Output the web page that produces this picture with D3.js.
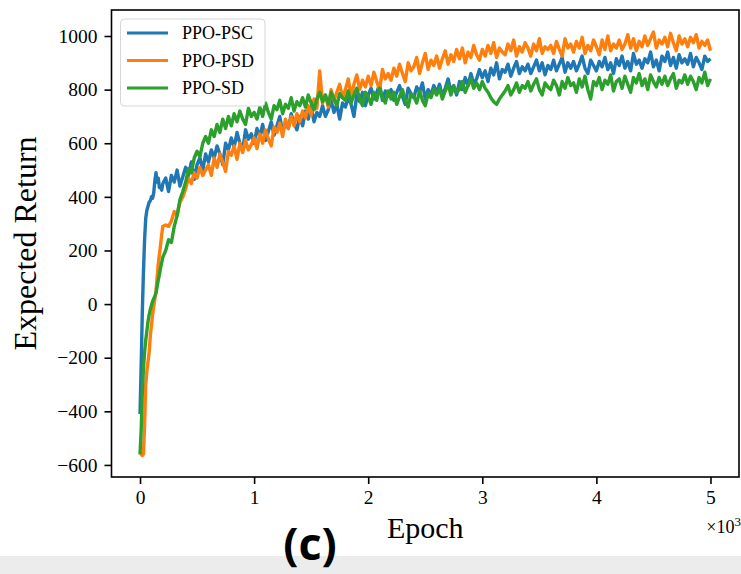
<!DOCTYPE html>
<html><head><meta charset="utf-8">
<script src="https://cdn.jsdelivr.net/npm/d3@7"></script>
<style>html,body{margin:0;padding:0;background:#fff;} svg{display:block;}</style>
</head><body>
<svg id="chart" width="741" height="574"></svg>
<script>
const seriesNames = ["PPO-PSC", "PPO-PSD", "PPO-SD"];
const seriesColors = ["#1f77b4", "#ff7f0e", "#2ca02c"];
const xTicks = [0, 1000, 2000, 3000, 4000, 5000];
const xTickLabels = ["0", "1", "2", "3", "4", "5"];
const yTicks = [-600, -400, -200, 0, 200, 400, 600, 800, 1000];

const epochs = [0,10,20,30,40,50,60,70,80,90,100,110,120,130,140,150,160,170,180,190,
200,225,250,275,300,325,350,375,
400,425,450,475,500,525,550,575,
600,625,650,675,700,725,750,775,
800,825,850,875,900,925,950,975,
1000,1025,1050,1075,1100,1125,1150,1175,
1200,1225,1250,1275,1300,1325,1350,1375,
1400,1425,1450,1475,1500,1525,1550,1575,
1600,1625,1650,1675,1700,1725,1750,1775,
1800,1825,1850,1875,1900,1925,1950,1975,
2000,2025,2050,2075,2100,2125,2150,2175,
2200,2225,2250,2275,2300,2325,2350,2375,
2400,2425,2450,2475,2500,2525,2550,2575,
2600,2625,2650,2675,2700,2725,2750,2775,
2800,2825,2850,2875,2900,2925,2950,2975,
3000,3025,3050,3075,3100,3125,3150,3175,
3200,3225,3250,3275,3300,3325,3350,3375,
3400,3425,3450,3475,3500,3525,3550,3575,
3600,3625,3650,3675,3700,3725,3750,3775,
3800,3825,3850,3875,3900,3925,3950,3975,
4000,4025,4050,4075,4100,4125,4150,4175,
4200,4225,4250,4275,4300,4325,4350,4375,
4400,4425,4450,4475,4500,4525,4550,4575,
4600,4625,4650,4675,4700,4725,4750,4775,
4800,4825,4850,4875,4900,4925,4950,4975,
5000];

const ppoPSC = [-410,-230,-30,120,240,320,350,365,380,385,400,395,415,460,490,455,470,435,440,425,
450,470,420,480,455,500,440,475,
510,480,530,465,520,545,500,560,
530,575,545,590,560,520,600,575,
620,585,640,600,575,650,615,635,
600,655,625,670,610,645,680,630,
665,700,640,680,655,710,675,650,
700,665,720,690,735,680,715,700,
740,700,725,760,715,745,690,750,
735,770,745,700,780,755,790,740,
780,805,765,790,820,760,795,775,
800,760,790,815,775,745,805,785,
770,810,790,825,765,800,780,815,
790,820,775,805,840,795,815,780,
830,800,845,815,860,820,840,875,
845,870,830,880,855,900,840,875,
865,895,850,880,905,860,885,870,
895,860,885,910,870,900,855,890,
875,910,870,895,920,865,900,880,
905,870,895,925,880,860,910,890,
870,905,885,920,875,900,860,915,
890,925,880,905,870,935,895,910,
880,915,900,940,885,910,870,925,
905,940,890,920,880,930,900,915,
895,935,885,920,900,875,925,905,
915];

const ppoPSD = [-555,-560,-565,-560,-450,-300,-250,-215,-180,-120,-80,-40,-10,20,50,100,150,185,220,260,
290,295,290,310,345,330,380,400,
430,470,450,490,470,510,480,500,
520,480,545,510,560,530,495,570,
555,590,540,600,565,610,575,595,
620,580,635,600,650,615,590,660,
640,675,625,690,655,700,665,710,
680,720,695,740,705,765,730,870,
750,780,735,800,760,790,820,770,
800,840,775,820,855,800,835,810,
850,815,865,830,800,875,840,860,
835,880,850,895,860,830,900,870,
885,920,860,900,935,875,910,890,
925,880,915,945,895,930,905,950,
915,955,900,940,920,965,930,910,
950,925,965,935,975,920,955,940,
930,970,945,985,925,960,940,975,
955,925,970,945,990,935,960,950,
965,935,980,950,925,990,955,970,
940,980,955,995,935,965,945,985,
960,930,985,950,1000,945,970,955,
985,950,970,1005,955,990,945,980,
960,1000,965,990,1015,955,985,970,
995,960,1010,975,945,1000,970,990,
960,995,975,1005,955,980,965,985,
945];

const ppoSD = [-560,-470,-330,-240,-180,-135,-100,-65,-40,-20,-5,10,20,30,41,65,90,110,135,155,
175,200,240,230,290,330,390,420,
455,505,490,545,570,550,600,625,
600,650,625,670,640,690,655,700,
665,710,680,720,690,670,730,700,
715,690,735,700,750,715,690,740,
725,760,710,745,730,770,720,755,
740,770,735,780,750,725,765,790,
755,780,745,790,765,740,785,770,
760,795,750,780,805,765,740,790,
775,745,790,760,805,770,750,795,
765,790,745,775,800,760,735,785,
775,750,795,760,740,785,770,800,
780,805,765,795,820,780,810,790,
800,830,790,815,840,805,825,800,
830,805,790,770,755,745,765,780,
795,815,780,800,825,790,815,805,
830,795,820,840,800,780,825,810,
800,835,815,780,830,805,845,815,
825,790,840,810,850,800,765,830,
815,845,800,835,820,855,795,830,
840,805,850,820,790,845,825,860,
815,840,800,855,830,810,845,820,
850,815,840,860,805,835,825,855,
820,850,830,800,845,825,865,815,
840];

const seriesValues = [ppoPSC, ppoPSD, ppoSD];

const svg = d3.select("#chart");
const L = 111.5, R = 739, T = 10, B = 477;
const x = d3.scaleLinear().domain([-250, 5250]).range([L, R]);
const y = d3.scaleLinear().domain([-645, 1097]).range([B, T]);

// bottom gray band
svg.append("rect").attr("x", 0).attr("y", 556).attr("width", 741).attr("height", 18).attr("fill", "#ececec");

svg.append("defs").append("clipPath").attr("id", "clip")
  .append("rect").attr("x", L).attr("y", T).attr("width", R - L).attr("height", B - T);

const serif = "'Liberation Serif','Times New Roman',serif";

// lines
const line = d3.line().x((d, i) => x(epochs[i])).y(d => y(d));
const g = svg.append("g").attr("clip-path", "url(#clip)");
seriesValues.forEach((vals, k) => {
  g.append("path").datum(vals).attr("d", line)
    .attr("fill", "none").attr("stroke", seriesColors[k])
    .attr("stroke-width", 3.4).attr("stroke-linejoin", "round").attr("stroke-linecap", "butt");
});

// axes
const xAxis = d3.axisBottom(x).tickValues(xTicks).tickFormat((d, i) => xTickLabels[i]).tickSize(7).tickPadding(6).tickSizeOuter(0);
const yAxis = d3.axisLeft(y).tickValues(yTicks).tickFormat(d => (d < 0 ? "\u2212" + Math.abs(d) : String(d))).tickSize(7).tickPadding(7).tickSizeOuter(0);

const gx = svg.append("g").attr("transform", `translate(0,${B})`).call(xAxis);
const gy = svg.append("g").attr("transform", `translate(${L},0)`).call(yAxis);
[gx, gy].forEach(a => {
  a.select(".domain").remove();
  a.selectAll(".tick line").attr("stroke", "#000").attr("stroke-width", 1.6);
  a.selectAll(".tick text").attr("font-family", serif).attr("font-size", 19.5).attr("fill", "#000");
});

// frame
svg.append("rect").attr("x", L).attr("y", T).attr("width", R - L).attr("height", B - T)
  .attr("fill", "none").attr("stroke", "#000").attr("stroke-width", 1.6);

// axis titles
svg.append("text").attr("x", (L + R) / 2).attr("y", 538).attr("text-anchor", "middle")
  .attr("font-family", serif).attr("font-size", 30).attr("fill", "#000").text("Epoch");
svg.append("text").attr("transform", `translate(36,${(T + B) / 2}) rotate(-90)`).attr("text-anchor", "middle")
  .attr("font-family", serif).attr("font-size", 32).attr("fill", "#000").text("Expected Return");
svg.append("text").attr("x", 741).attr("y", 533).attr("text-anchor", "end")
  .attr("font-family", serif).attr("font-size", 18).attr("fill", "#000")
  .html("\u00d710<tspan dy='-7' font-size='13'>3</tspan>");

// legend
const lg = svg.append("g");
lg.append("rect").attr("x", 120.5).attr("y", 19).attr("width", 144.5).attr("height", 87).attr("rx", 4)
  .attr("fill", "#fff").attr("fill-opacity", 0.85).attr("stroke", "#d6d6d6").attr("stroke-width", 1);
seriesNames.forEach((name, k) => {
  const yy = 33 + k * 27.5;
  lg.append("line").attr("x1", 127).attr("x2", 168).attr("y1", yy).attr("y2", yy)
    .attr("stroke", seriesColors[k]).attr("stroke-width", 3.2);
  lg.append("text").attr("x", 182).attr("y", yy + 6).attr("font-family", serif).attr("font-size", 18)
    .attr("fill", "#000").text(name);
});

// panel label
svg.append("text").attr("x", 310).attr("y", 560).attr("text-anchor", "middle")
  .attr("font-family", "'Open Sans', sans-serif").attr("font-weight", "bold").attr("font-size", 45)
  .attr("fill", "#000").text("(c)");
</script>
</body></html>
